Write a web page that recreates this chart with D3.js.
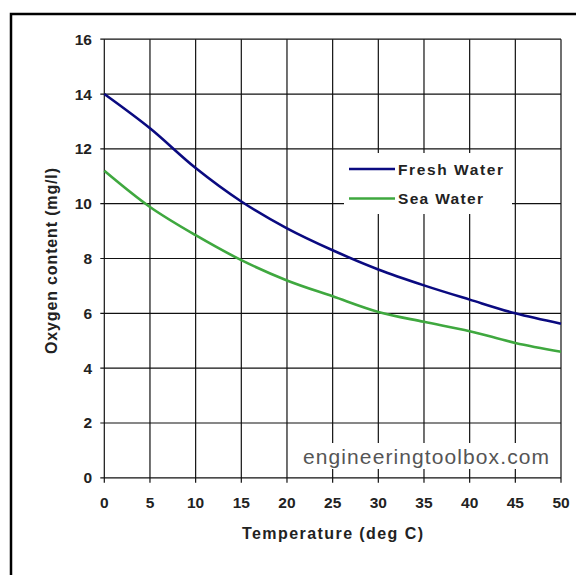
<!DOCTYPE html>
<html>
<head>
<meta charset="utf-8">
<script src="https://cdn.jsdelivr.net/npm/d3@7"></script>
<style>
  body { margin: 0; background: #fff; }
  svg text { font-family: "Liberation Sans", Arial, sans-serif; }
</style>
</head>
<body>
<svg id="chart" width="576" height="575"></svg>
<script>
// data
var temperature = [0, 5, 10, 15, 20, 25, 30, 35, 40, 45, 50];
var freshWater  = [14.0, 12.75, 11.3, 10.08, 9.1, 8.3, 7.6, 7.02, 6.5, 6.0, 5.62];
var seaWater    = [11.2, 9.88, 8.85, 7.94, 7.2, 6.62, 6.05, 5.69, 5.35, 4.92, 4.6];
var xTicks = [0, 5, 10, 15, 20, 25, 30, 35, 40, 45, 50];
var yTicks = [0, 2, 4, 6, 8, 10, 12, 14, 16];
var seriesNames = ["Fresh Water", "Sea Water"];
var seriesColors = ["#0a0a80", "#3fa83f"];

var SVG = d3.select("#chart");

// frame (only left and top edges are visible)
SVG.append("path")
   .attr("d", "M11,575 L11,14 L576,14")
   .attr("fill", "none")
   .attr("stroke", "#000")
   .attr("stroke-width", 2.5);

var x = d3.scaleLinear().domain([0, 50]).range([104.3, 561]);
var y = d3.scaleLinear().domain([0, 16]).range([477.8, 39.2]);

// grid
var grid = SVG.append("g").attr("class", "grid");
grid.selectAll(".vline")
    .data(xTicks)
    .enter()
    .append("line")
    .attr("class", "vline")
    .attr("x1", function(d){return x(d);})
    .attr("x2", function(d){return x(d);})
    .attr("y1", y(16))
    .attr("y2", y(0) + 5)
    .attr("stroke", "#111")
    .attr("stroke-width", 1.2);
grid.selectAll(".hline")
    .data(yTicks)
    .enter()
    .append("line")
    .attr("class", "hline")
    .attr("x1", x(0) - 4)
    .attr("x2", x(50))
    .attr("y1", function(d){return y(d);})
    .attr("y2", function(d){return y(d);})
    .attr("stroke", "#111")
    .attr("stroke-width", 1.2);

// tick labels
SVG.selectAll(".xlabel")
   .data(xTicks)
   .enter()
   .append("text")
   .attr("class", "xlabel")
   .attr("x", function(d){return x(d);})
   .attr("y", 508)
   .attr("text-anchor", "middle")
   .attr("font-size", 15.5)
   .attr("font-weight", "bold")
   .attr("fill", "#222")
   .text(function(d){return d;});

SVG.selectAll(".ylabel")
   .data(yTicks)
   .enter()
   .append("text")
   .attr("class", "ylabel")
   .attr("x", 92)
   .attr("y", function(d){return y(d) + 5.5;})
   .attr("text-anchor", "end")
   .attr("font-size", 15.5)
   .attr("font-weight", "bold")
   .attr("fill", "#222")
   .text(function(d){return d;});

// axis titles
SVG.append("text")
   .attr("x", 242)
   .attr("y", 539)
   .attr("font-size", 16)
   .attr("font-weight", "bold")
   .attr("fill", "#222")
   .attr("textLength", 181)
   .attr("lengthAdjust", "spacing")
   .text("Temperature (deg C)");

SVG.append("text")
   .attr("transform", "translate(57,354) rotate(-90)")
   .attr("font-size", 16)
   .attr("font-weight", "bold")
   .attr("fill", "#222")
   .attr("textLength", 186)
   .attr("lengthAdjust", "spacing")
   .text("Oxygen content (mg/l)");

// watermark
SVG.append("rect")
   .attr("x", 300).attr("y", 443)
   .attr("width", 258).attr("height", 26)
   .attr("fill", "#fff");
SVG.append("text")
   .attr("x", 303)
   .attr("y", 464)
   .attr("font-size", 21)
   .attr("fill", "#555")
   .attr("textLength", 246)
   .attr("lengthAdjust", "spacing")
   .text("engineeringtoolbox.com");

// lines
var line = d3.line()
    .x(function(d){return x(d[0]);})
    .y(function(d){return y(d[1]);})
    .curve(d3.curveCatmullRom);

[freshWater, seaWater].forEach(function(vals, i){
    SVG.append("path")
       .datum(d3.zip(temperature, vals))
       .attr("d", line)
       .attr("fill", "none")
       .attr("stroke", seriesColors[i])
       .attr("stroke-width", 2.6);
});

// legend
SVG.append("rect")
   .attr("x", 344).attr("y", 153)
   .attr("width", 168).attr("height", 61)
   .attr("fill", "#fff");
var legendY = [169, 198.5];
var legendW = [105, 85];
seriesNames.forEach(function(name, i){
    SVG.append("line")
       .attr("x1", 349).attr("x2", 395)
       .attr("y1", legendY[i]).attr("y2", legendY[i])
       .attr("stroke", seriesColors[i])
       .attr("stroke-width", 2.6);
    SVG.append("text")
       .attr("x", 398)
       .attr("y", legendY[i] + 5.5)
       .attr("font-size", 15.5)
       .attr("font-weight", "bold")
       .attr("fill", "#222")
       .attr("textLength", legendW[i])
       .attr("lengthAdjust", "spacing")
       .text(name);
});
</script>
</body>
</html>
